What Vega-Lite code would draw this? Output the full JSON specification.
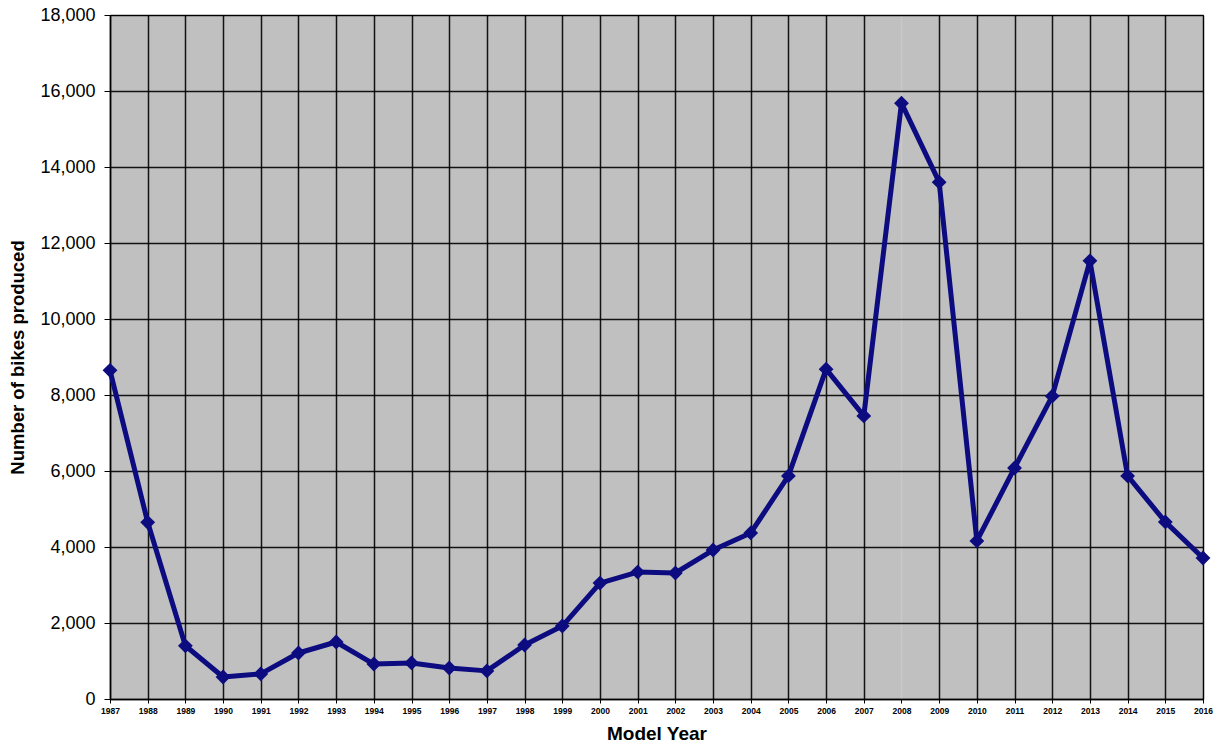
{
  "$schema": "https://vega.github.io/schema/vega-lite/v6.json",
  "width": 1093,
  "height": 684,
  "autosize": {"type": "none"},
  "padding": {"left": 110, "top": 15, "right": 14, "bottom": 45},
  "background": "white",
  "config": {
    "view": {"fill": "#c0c0c0", "stroke": "#000000", "strokeWidth": 1},
    "font": "Liberation Sans"
  },
  "data": {
    "values": [
      {"year": 1987, "bikes": 8650},
      {"year": 1988, "bikes": 4650},
      {"year": 1989, "bikes": 1400},
      {"year": 1990, "bikes": 580},
      {"year": 1991, "bikes": 660},
      {"year": 1992, "bikes": 1210},
      {"year": 1993, "bikes": 1500},
      {"year": 1994, "bikes": 920},
      {"year": 1995, "bikes": 950},
      {"year": 1996, "bikes": 815},
      {"year": 1997, "bikes": 740},
      {"year": 1998, "bikes": 1420},
      {"year": 1999, "bikes": 1920},
      {"year": 2000, "bikes": 3050},
      {"year": 2001, "bikes": 3340},
      {"year": 2002, "bikes": 3316},
      {"year": 2003, "bikes": 3920},
      {"year": 2004, "bikes": 4370},
      {"year": 2005, "bikes": 5870},
      {"year": 2006, "bikes": 8680},
      {"year": 2007, "bikes": 7450},
      {"year": 2008, "bikes": 15680},
      {"year": 2009, "bikes": 13600},
      {"year": 2010, "bikes": 4160},
      {"year": 2011, "bikes": 6080},
      {"year": 2012, "bikes": 7970},
      {"year": 2013, "bikes": 11530},
      {"year": 2014, "bikes": 5870},
      {"year": 2015, "bikes": 4660},
      {"year": 2016, "bikes": 3710}
    ]
  },
  "encoding": {
    "x": {
      "field": "year",
      "type": "quantitative",
      "scale": {"domain": [1987, 2016], "nice": false, "zero": false},
      "axis": {
        "title": "Model Year",
        "titleFont": "Liberation Sans",
        "titleFontSize": 19,
        "titleFontWeight": "bold",
        "titleColor": "#000000",
        "titlePadding": 10,
        "values": [1987,1988,1989,1990,1991,1992,1993,1994,1995,1996,1997,1998,1999,2000,2001,2002,2003,2004,2005,2006,2007,2008,2009,2010,2011,2012,2013,2014,2015,2016],
        "format": "d",
        "labelFont": "Liberation Sans",
        "labelFontSize": 8.5,
        "labelFontWeight": "bold",
        "labelColor": "#000000",
        "labelPadding": 3,
        "labelFlush": false,
        "labelOverlap": false,
        "grid": true,
        "gridColor": {"condition": {"test": "datum.value == 2008", "value": "#cacaca"}, "value": "#000000"},
        "gridWidth": 1.5,
        "gridOpacity": 0.9,
        "domainColor": "#000000",
        "domainWidth": 1.5,
        "tickColor": "#000000",
        "tickSize": 4
      }
    },
    "y": {
      "field": "bikes",
      "type": "quantitative",
      "scale": {"domain": [0, 18000], "nice": false},
      "axis": {
        "title": "Number of bikes produced",
        "titleFont": "Liberation Sans",
        "titleFontSize": 18.5,
        "titleFontWeight": "bold",
        "titleColor": "#000000",
        "titlePadding": 12,
        "values": [0,2000,4000,6000,8000,10000,12000,14000,16000,18000],
        "format": ",d",
        "labelFont": "Liberation Sans",
        "labelFontSize": 18,
        "labelColor": "#000000",
        "labelPadding": 9,
        "labelFlush": false,
        "grid": true,
        "gridColor": "#000000",
        "gridWidth": 1.5,
        "gridOpacity": 0.9,
        "domainColor": "#000000",
        "domainWidth": 1.5,
        "tickColor": "#000000",
        "tickSize": 6
      }
    }
  },
  "layer": [
    {"mark": {"type": "line", "color": "#0c0c80", "strokeWidth": 5, "strokeJoin": "round"}},
    {"mark": {"type": "point", "shape": "diamond", "filled": true, "color": "#0c0c80", "size": 220, "opacity": 1}}
  ]
}
